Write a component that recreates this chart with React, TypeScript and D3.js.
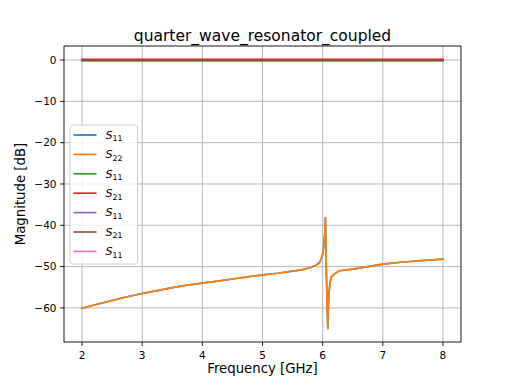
import React from "react";
import * as d3 from "d3";

// resonator curve
const curveFreqs = [
  2, 2.25, 2.5, 2.75, 3, 3.25, 3.5, 3.75, 4, 4.25, 4.5, 4.75, 5, 5.25, 5.5, 5.65,
  5.8, 5.9, 5.95, 5.99, 6.01, 6.025, 6.035, 6.042, 6.046, 6.06, 6.075, 6.086,
  6.095, 6.105, 6.12, 6.14, 6.2, 6.28, 6.5, 6.75, 7, 7.25, 7.5, 7.75, 8,
];
const curveDb = [
  -60.1, -59.1, -58.2, -57.3, -56.5, -55.8, -55.1, -54.5, -54.0, -53.5, -53.0,
  -52.5, -52.0, -51.6, -51.1, -50.8, -50.2, -49.6, -49.0, -47.6, -46.2, -44.0,
  -42.0, -39.5, -38.2, -50.0, -60.0, -65.0, -60.0, -56.5, -54.3, -52.6, -51.7,
  -51.0, -50.6, -50.0, -49.4, -49.0, -48.7, -48.45, -48.2,
];

// near-0 dB traces
const flatFreqs = [2, 8];
const flatGreen = [-0.2, -0.2];
const flatRed = [0.15, 0.15];
const flatPurple = [0, 0];
const flatBrown = [0.05, 0.05];
const flatPink = [0, 0];

const series = [
  { sub: "11", color: "#1f77b4", x: curveFreqs, y: curveDb, z: 2 },
  { sub: "22", color: "#ff7f0e", x: curveFreqs, y: curveDb, z: 3 },
  { sub: "11", color: "#2ca02c", x: flatFreqs, y: flatGreen, z: 4 },
  { sub: "21", color: "#d62728", x: flatFreqs, y: flatRed, z: 6 },
  { sub: "11", color: "#9467bd", x: flatFreqs, y: flatPurple, z: 0 },
  { sub: "21", color: "#8c564b", x: flatFreqs, y: flatBrown, z: 5 },
  { sub: "11", color: "#e377c2", x: flatFreqs, y: flatPink, z: 1 },
];

const xTicks = [2, 3, 4, 5, 6, 7, 8];
const yTicks = [0, -10, -20, -30, -40, -50, -60];

const W = 512;
const H = 384;
const margin = { top: 46, right: 51, bottom: 42, left: 64 };
const font = "DejaVu Sans, sans-serif";

export default function App() {
  const iw = W - margin.left - margin.right;
  const ih = H - margin.top - margin.bottom;

  const x = d3.scaleLinear().domain([1.7, 8.3]).range([0, iw]);
  const y = d3.scaleLinear().domain([-68.25, 3.4]).range([ih, 0]);

  const line = (xs: number[], ys: number[]) =>
    d3
      .line<number>()
      .x((_, i) => x(xs[i]))
      .y((d) => y(d))(ys) || "";

  const legX = 6;
  const legY = ih / 2 - 69;
  const rowH = 19.4;
  const drawOrder = [...series].sort((a, b) => a.z - b.z);

  return (
    <svg width={W} height={H} style={{ position: "absolute", left: 0, top: 0 }} fontFamily={font}>
      <rect width={W} height={H} fill="#fff" />
      <text x={margin.left + iw / 2} y={41} textAnchor="middle" fontSize={15.5} fill="#000">
        quarter_wave_resonator_coupled
      </text>
      <g transform={`translate(${margin.left},${margin.top})`}>
        {xTicks.map((t) => (
          <line key={"gx" + t} x1={x(t)} x2={x(t)} y1={0} y2={ih} stroke="#b0b0b0" strokeWidth={0.9} />
        ))}
        {yTicks.map((t) => (
          <line key={"gy" + t} x1={0} x2={iw} y1={y(t)} y2={y(t)} stroke="#b0b0b0" strokeWidth={0.9} />
        ))}
        {drawOrder.map((s, i) => (
          <path
            key={i}
            d={line(s.x, s.y)}
            fill="none"
            stroke={s.color}
            strokeWidth={1.67}
            strokeLinejoin="round"
            strokeLinecap="square"
          />
        ))}
        <rect x={0} y={0} width={iw} height={ih} fill="none" stroke="#000" strokeWidth={0.9} />
        {xTicks.map((t) => (
          <g key={"tx" + t} transform={`translate(${x(t)},${ih})`}>
            <line y2={3.9} stroke="#000" strokeWidth={0.9} />
            <text y={16.5} textAnchor="middle" fontSize={10.5} fill="#000">
              {t}
            </text>
          </g>
        ))}
        {yTicks.map((t) => (
          <g key={"ty" + t} transform={`translate(0,${y(t)})`}>
            <line x2={-3.9} stroke="#000" strokeWidth={0.9} />
            <text x={-7.5} dy="0.36em" textAnchor="end" fontSize={10.5} fill="#000">
              {t < 0 ? "\u2212" + Math.abs(t) : t}
            </text>
          </g>
        ))}
        <g transform={`translate(${legX},${legY})`}>
          <rect width={67.5} height={139} rx={3} fill="#fff" fillOpacity={0.8} stroke="#cccccc" strokeWidth={0.9} />
          {series.map((s, i) => (
            <g key={"lg" + i} transform={`translate(0,${10 + i * rowH})`}>
              <line x1={3.5} x2={26.5} stroke={s.color} strokeWidth={1.67} />
              <text x={35.5} dy="0.35em" fontSize={11.1} fill="#000">
                <tspan fontStyle="italic">S</tspan>
                <tspan fontSize={7.8} dy={2.5}>
                  {s.sub}
                </tspan>
              </text>
            </g>
          ))}
        </g>
      </g>
      <text x={margin.left + iw / 2} y={373} textAnchor="middle" fontSize={13.3} fill="#000">
        Frequency [GHz]
      </text>
      <text
        transform={`translate(25,${margin.top + ih / 2}) rotate(-90)`}
        textAnchor="middle"
        fontSize={13.3}
        fill="#000"
      >
        Magnitude [dB]
      </text>
    </svg>
  );
}
